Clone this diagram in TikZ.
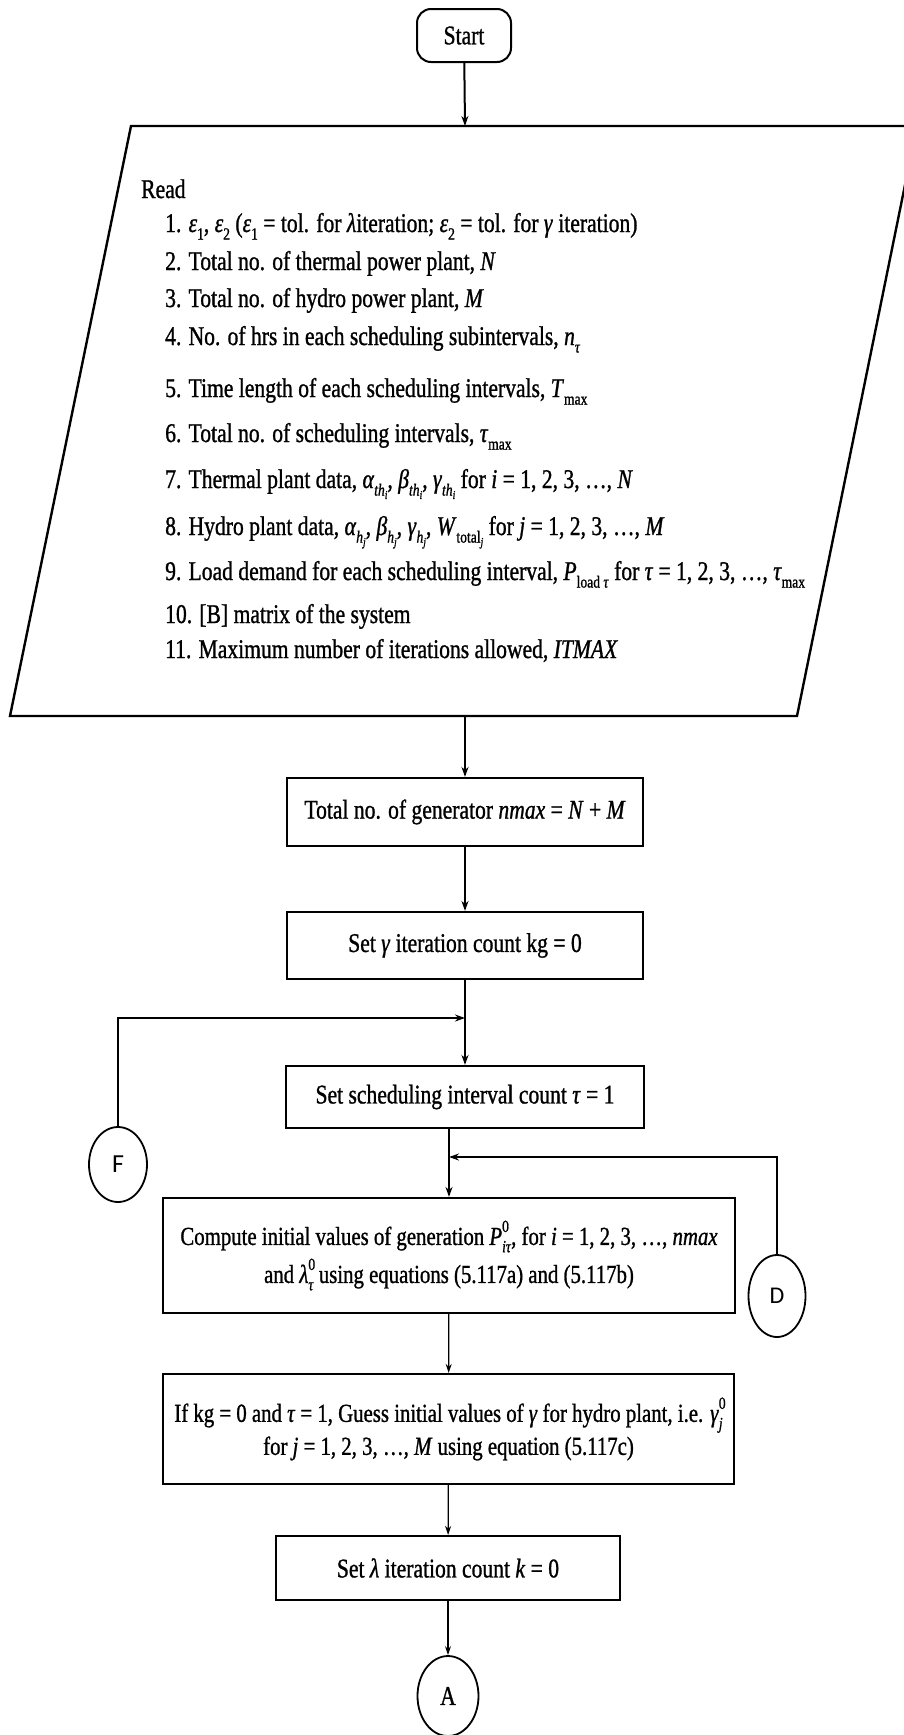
\documentclass[tikz,border=0pt]{standalone}
\usepackage{fontspec}
\setmainfont{Liberation Serif}[FakeStretch=0.8,FakeBold=1]
\newfontfamily\calfont{Carlito}
\usetikzlibrary{arrows.meta,shapes.geometric}
\newcommand\mi[1]{\textit{#1}}
\newcommand\sbx[1]{\raisebox{-0.28em}{\fontsize{17}{17}\selectfont #1}}
\newcommand\ssbx[1]{\raisebox{-0.2em}{\fontsize{12}{12}\selectfont #1}}
\newcommand\spx[1]{\raisebox{0.5em}{\fontsize{17}{17}\selectfont #1}}
\tikzset{
  txt/.style={anchor=base west, inner sep=0pt, font=\fontsize{27}{30}\selectfont},
  procbox/.style={draw, line width=2.2pt, inner sep=0pt, align=center, font=\fontsize{27}{38}\selectfont},
  conn/.style={line width=2pt, -{Stealth[length=10pt,width=7pt]}},
  connthin/.style={line width=1.3pt, -{Stealth[length=9pt,width=6pt]}},
  joint/.style={draw, ellipse, line width=1.8pt, inner sep=0pt},
}
\begin{document}
\begin{tikzpicture}[x=1pt,y=-1pt]
\useasboundingbox (0,0) rectangle (904,1735);
\fill[white] (0,0) rectangle (904,1735);
\clip (0,0) rectangle (904,1735);

\node[draw, line width=2pt, rounded corners=14pt, minimum width=94pt, minimum height=53pt, font=\fontsize{27}{30}\selectfont] (start) at (464,35.5) {Start};

\draw[line width=2.4pt] (131,126) -- (917,126) -- (797,716) -- (10,716) -- cycle;
\coordinate (readtop) at (465,126);
\coordinate (readbot) at (465,716);

\node[txt] (r0) at (141,198) {Read};
\node[txt] (r1) at (165,232) {1. \mi{ε}\sbx{1}, \mi{ε}\sbx{2} (\mi{ε}\sbx{1} = tol. for \mi{λ}iteration; \mi{ε}\sbx{2} = tol. for \mi{γ} iteration)};
\node[txt] (r2) at (165,270) {2. Total no. of thermal power plant, \mi{N}};
\node[txt] (r3) at (165,307) {3. Total no. of hydro power plant, \mi{M}};
\node[txt] (r4) at (165,345) {4. No. of hrs in each scheduling subintervals, \mi{n}\sbx{\mi{τ}}};
\node[txt] (r5) at (165,397) {5. Time length of each scheduling intervals, \mi{T}\sbx{max}};
\node[txt] (r6) at (165,442) {6. Total no. of scheduling intervals, \mi{τ}\sbx{max}};
\node[txt] (r7) at (165,488) {7. Thermal plant data, \mi{α}\sbx{\mi{th}\ssbx{\mi{i}}}, \mi{β}\sbx{\mi{th}\ssbx{\mi{i}}}, \mi{γ}\sbx{\mi{th}\ssbx{\mi{i}}} for \mi{i} = 1, 2, 3, \ldots, \mi{N}};
\node[txt] (r8) at (165,535) {8. Hydro plant data, \mi{α}\sbx{\mi{h}\ssbx{\mi{j}}}, \mi{β}\sbx{\mi{h}\ssbx{\mi{j}}}, \mi{γ}\sbx{\mi{h}\ssbx{\mi{j}}}, \mi{W}\sbx{total\ssbx{\mi{j}}} for \mi{j} = 1, 2, 3, \ldots, \mi{M}};
\node[txt] (r9) at (165,580) {9. Load demand for each scheduling interval, \mi{P}\sbx{load \mi{τ}} for \mi{τ} = 1, 2, 3, \ldots, \mi{τ}\sbx{max}};
\node[txt] (r10) at (165,623) {10. [B] matrix of the system};
\node[txt] (r11) at (165,658) {11. Maximum number of iterations allowed, \mi{ITMAX}};

\node[procbox, minimum width=356pt, minimum height=68pt] (tot) at (465,812) {Total no. of generator \mi{nmax} = \mi{N} + \mi{M}};
\node[procbox, minimum width=356pt, minimum height=67pt] (setg) at (465,945.5) {Set \mi{γ} iteration count kg = 0};
\node[procbox, minimum width=358pt, minimum height=62pt] (setsch) at (465,1097) {Set scheduling interval count \mi{τ} = 1};
\node[procbox, minimum width=572pt, minimum height=115pt, font=\fontsize{26}{38}\selectfont] (comp) at (449,1255.5) {Compute initial values of generation \mi{P}\rlap{\spx{0}}\sbx{\mi{iτ}}, for \mi{i} = 1, 2, 3, \ldots, \mi{nmax}\\ and \mi{λ}\rlap{\spx{0}}\sbx{\mi{τ}} using equations (5.117a) and (5.117b)};
\node[procbox, minimum width=571pt, minimum height=110pt, font=\fontsize{26}{33}\selectfont] (ifb) at (448.5,1429) {If kg = 0 and \mi{τ} = 1, Guess initial values of \mi{γ} for hydro plant, i.e. \mi{γ}\rlap{\spx{0}}\sbx{\mi{j}}\\ for \mi{j} = 1, 2, 3, \ldots, \mi{M} using equation (5.117c)};
\node[procbox, minimum width=344pt, minimum height=64pt] (setl) at (448,1568) {Set \mi{λ} iteration count \mi{k} = 0};

\node[joint, minimum width=58pt, minimum height=75pt, font=\calfont\fontsize{26}{26}\selectfont] (F) at (118,1164.5) {F};
\node[joint, minimum width=57pt, minimum height=82pt, font=\calfont\fontsize{24}{24}\selectfont] (D) at (777,1296) {D};
\node[joint, minimum width=61pt, minimum height=80pt, font=\fontsize{27}{27}\selectfont] (A) at (448,1696) {A};

\coordinate (jF) at (465,1018);
\coordinate (jD) at (449,1157);

\draw[conn] (start) -- (readtop);
\draw[conn] (readbot) -- (tot);
\draw[conn] (tot) -- (setg);
\draw[conn] (setg) -- (setsch);
\draw[conn, line width=1.6pt] (F) |- (jF);
\draw[conn] (D) |- (jD);
\draw[conn] (setsch.south -| comp.north) -- (comp);
\draw[connthin] (comp) -- (ifb);
\draw[connthin] (ifb) -- (setl);
\draw[connthin] (setl) -- (A);
\end{tikzpicture}
\end{document}
